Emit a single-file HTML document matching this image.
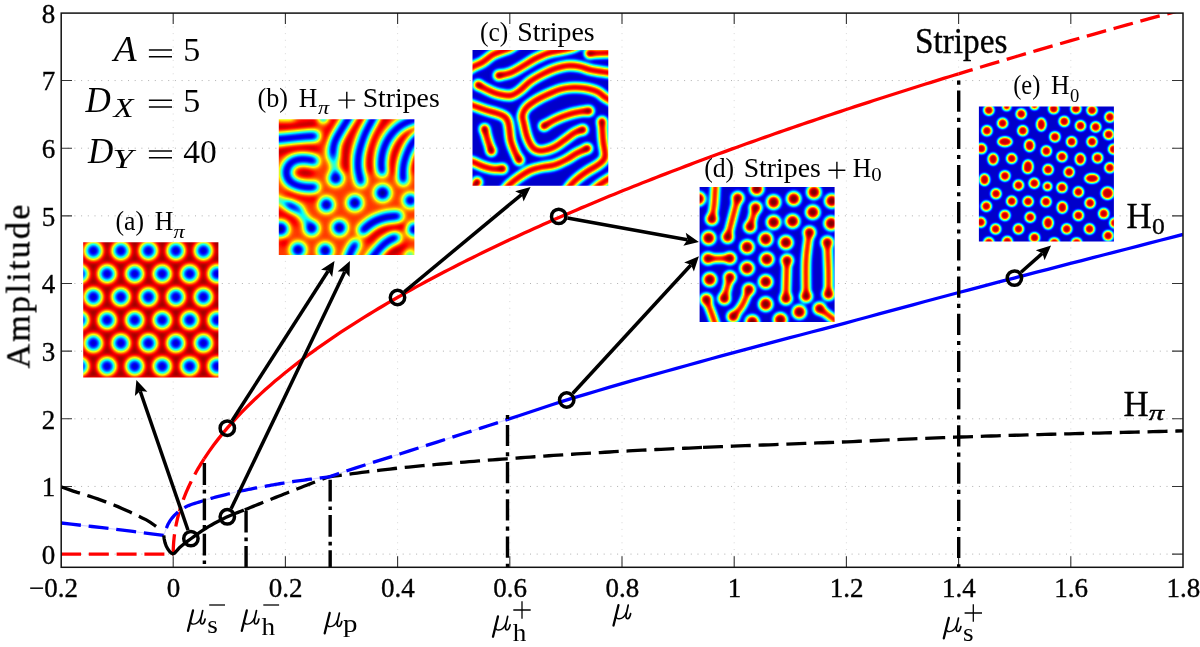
<!DOCTYPE html>
<html><head><meta charset="utf-8"><title>Bifurcation diagram</title>
<style>
html,body{margin:0;padding:0;background:#fff;}
body{width:1200px;height:647px;overflow:hidden;font-family:"Liberation Serif",serif;}
svg{display:block;}
svg text{font-family:"Liberation Serif",serif;fill:#000;stroke:#000;stroke-width:.35px;}
svg text.cm{stroke:none;}
</style></head><body>
<svg width="1200" height="647" viewBox="0 0 1200 647">
<rect width="1200" height="647" fill="#fff"/>
<path d="M173.2 13 V567.3 M285.4 13 V567.3 M397.6 13 V567.3 M509.8 13 V567.3 M622 13 V567.3 M734.2 13 V567.3 M846.4 13 V567.3 M958.6 13 V567.3 M1070.8 13 V567.3" fill="none" stroke="#808080" stroke-width="1" stroke-dasharray="1 5.7" opacity="0.3"/>
<path d="M61 554.1 H1183 M61 486.45 H1183 M61 418.8 H1183 M61 351.15 H1183 M61 283.5 H1183 M61 215.85 H1183 M61 148.2 H1183 M61 80.55 H1183" fill="none" stroke="#707070" stroke-width="1" stroke-dasharray="1 5.7" opacity="0.55"/>
<path d="M173.2 13 v11 M173.2 567.3 v-11 M285.4 13 v11 M285.4 567.3 v-11 M397.6 13 v11 M397.6 567.3 v-11 M509.8 13 v11 M509.8 567.3 v-11 M622 13 v11 M622 567.3 v-11 M734.2 13 v11 M734.2 567.3 v-11 M846.4 13 v11 M846.4 567.3 v-11 M958.6 13 v11 M958.6 567.3 v-11 M1070.8 13 v11 M1070.8 567.3 v-11 M61 554.1 h11 M1183 554.1 h-11 M61 486.45 h11 M1183 486.45 h-11 M61 418.8 h11 M1183 418.8 h-11 M61 351.15 h11 M1183 351.15 h-11 M61 283.5 h11 M1183 283.5 h-11 M61 215.85 h11 M1183 215.85 h-11 M61 148.2 h11 M1183 148.2 h-11 M61 80.55 h11 M1183 80.55 h-11" fill="none" stroke="#333" stroke-width="1.1"/>
<clipPath id="axclip"><rect x="61" y="13" width="1122" height="554.3"/></clipPath>
<g clip-path="url(#axclip)">
<path d="M61 554.1 L173.2 554.1" fill="none" stroke="#ff0000" stroke-width="3.3" stroke-dasharray="20.0 7.8" stroke-dashoffset="0" />
<path d="M173.2 554.1 L173.22 551.72 L173.28 549.34 L173.37 546.96 L173.51 544.58 L173.68 542.2 L173.89 539.82 L174.14 537.44 L174.43 535.06 L174.76 532.68 L175.13 530.3 L175.53 527.92 L175.98 525.54 L176.46 523.16 L176.98 520.78 L177.54 518.4 L178.14 516.02 L178.77 513.64 L179.45 511.26 L180.16 508.88 L180.91 506.5 L181.7 504.12 L182.53 501.74 L183.4 499.36 L184.31 496.98 L185.25 494.61 L186.24 492.23 L187.26 489.85 L188.32 487.47 L189.42 485.09 L190.56 482.71 L191.73 480.33 L192.95 477.95 L194.2 475.57 L195.49 473.19 L196.82 470.81 L198.19 468.43 L199.6 466.05 L201.05 463.67 L202.53 461.29 L204.06 458.91" fill="none" stroke="#ff0000" stroke-width="3.3" stroke-dasharray="20.0 7.8" stroke-dashoffset="0" />
<path d="M204.06 458.91 L208.77 451.89 L213.49 445.33 L218.2 439.14 L222.92 433.26 L227.63 427.66 L232.35 422.3 L237.07 417.15 L241.78 412.18 L246.5 407.38 L251.21 402.74 L255.93 398.23 L260.65 393.85 L265.36 389.58 L270.08 385.43 L274.79 381.37 L279.51 377.41 L284.23 373.53 L288.94 369.73 L293.66 366.02 L298.37 362.37 L303.09 358.79 L307.8 355.28 L312.52 351.82 L317.24 348.43 L321.95 345.09 L326.67 341.8 L331.38 338.56 L336.1 335.37 L340.82 332.23 L345.53 329.13 L350.25 326.07 L354.96 323.06 L359.68 320.08 L364.4 317.14 L369.11 314.23 L373.83 311.36 L378.54 308.53 L383.26 305.72 L387.98 302.95 L392.69 300.21 L397.41 297.5 L402.12 294.81 L406.84 292.15 L411.55 289.52 L416.27 286.92 L420.99 284.34 L425.7 281.79 L430.42 279.25 L435.13 276.75 L439.85 274.26 L444.57 271.8 L449.28 269.35 L454 266.93 L458.71 264.53 L463.43 262.15 L468.15 259.79 L472.86 257.44 L477.58 255.12 L482.29 252.81 L487.01 250.52 L491.73 248.25 L496.44 245.99 L501.16 243.75 L505.87 241.53 L510.59 239.32 L515.3 237.13 L520.02 234.95 L524.74 232.79 L529.45 230.64 L534.17 228.51 L538.88 226.39 L543.6 224.28 L548.32 222.19 L553.03 220.11 L557.75 218.04 L562.46 215.99 L567.18 213.95 L571.9 211.92 L576.61 209.9 L581.33 207.89 L586.04 205.9 L590.76 203.92 L595.48 201.94 L600.19 199.98 L604.91 198.03 L609.62 196.09 L614.34 194.16 L619.05 192.25 L623.77 190.34 L628.49 188.44 L633.2 186.55 L637.92 184.67 L642.63 182.8 L647.35 180.94 L652.07 179.09 L656.78 177.25 L661.5 175.41 L666.21 173.59 L670.93 171.77 L675.65 169.97 L680.36 168.17 L685.08 166.38 L689.79 164.6 L694.51 162.82 L699.23 161.06 L703.94 159.3 L708.66 157.55 L713.37 155.81 L718.09 154.07 L722.8 152.34 L727.52 150.62 L732.24 148.91 L736.95 147.21 L741.67 145.51 L746.38 143.82 L751.1 142.13 L755.82 140.45 L760.53 138.78 L765.25 137.12 L769.96 135.46 L774.68 133.81 L779.4 132.17 L784.11 130.53 L788.83 128.9 L793.54 127.27 L798.26 125.65 L802.98 124.04 L807.69 122.43 L812.41 120.83 L817.12 119.23 L821.84 117.65 L826.55 116.06 L831.27 114.48 L835.99 112.91 L840.7 111.34 L845.42 109.78 L850.13 108.23 L854.85 106.68 L859.57 105.13 L864.28 103.59 L869 102.06 L873.71 100.53 L878.43 99 L883.15 97.49 L887.86 95.97 L892.58 94.46 L897.29 92.96 L902.01 91.46 L906.73 89.96 L911.44 88.47 L916.16 86.99 L920.87 85.51 L925.59 84.03 L930.3 82.56 L935.02 81.1 L939.74 79.64 L944.45 78.18 L949.17 76.73 L953.88 75.28 L958.6 73.83" fill="none" stroke="#ff0000" stroke-width="3.3" />
<path d="M958.6 73.83 L969.82 70.41 L981.04 67.02 L992.26 63.65 L1003.48 60.3 L1014.7 56.98 L1025.92 53.67 L1037.14 50.39 L1048.36 47.13 L1059.58 43.89 L1070.8 40.67 L1082.02 37.47 L1093.24 34.29 L1104.46 31.13 L1115.68 27.99 L1126.9 24.87 L1138.12 21.77 L1149.34 18.68 L1160.56 15.61 L1171.78 12.56 L1183 9.53" fill="none" stroke="#ff0000" stroke-width="3.3" stroke-dasharray="20.0 7.8" stroke-dashoffset="5.33" />
<path d="M61 522.98 L71.28 524.16 L81.56 525.33 L91.83 526.5 L102.11 527.69 L112.39 528.91 L122.67 530.16 L132.94 531.45 L143.22 532.75 L153.5 534.06 L163.78 535.36 L165.84 529.54 L167.91 524.45 L169.98 520.85 L172.04 518.07 L174.11 515.68 L176.18 513.61 L178.25 511.82 L180.31 510.26 L182.38 508.87 L184.45 507.63 L186.52 506.54 L188.58 505.6 L190.65 504.78 L192.72 504.05 L194.78 503.37 L196.85 502.74 L198.92 502.11 L200.99 501.47 L203.05 500.79 L205.12 500.14 L207.19 499.51 L209.26 498.9 L211.32 498.31 L213.39 497.74 L215.46 497.18 L217.52 496.63 L219.59 496.1 L221.66 495.57 L223.73 495.05 L225.79 494.53 L227.86 494.02 L229.93 493.52 L232 493.03 L234.06 492.55 L236.13 492.08 L238.2 491.62 L240.26 491.17 L242.33 490.73 L244.4 490.29 L246.47 489.86 L248.53 489.44 L250.6 489.02 L252.67 488.61 L254.74 488.21 L256.8 487.81 L258.87 487.41 L260.94 487.02 L263 486.64 L265.07 486.26 L267.14 485.89 L269.21 485.52 L271.27 485.15 L273.34 484.79 L275.41 484.44 L277.48 484.09 L279.54 483.75 L281.61 483.41 L283.68 483.07 L285.75 482.74 L287.81 482.42 L289.88 482.1 L291.95 481.79 L294.01 481.49 L296.08 481.19 L298.15 480.89 L300.22 480.6 L302.28 480.31 L304.35 480.03 L306.42 479.75 L308.49 479.48 L310.55 479.2 L312.62 478.93 L314.69 478.66 L316.75 478.39 L318.82 478.12 L320.89 477.85 L322.96 477.59 L325.02 477.32 L327.09 477.05 L329.16 476.78 L338.08 473.69 L347 470.71 L355.92 467.82 L364.84 464.98 L373.76 462.18 L382.68 459.39 L391.6 456.57 L400.52 453.72 L409.44 450.86 L418.36 448.01 L427.28 445.16 L436.2 442.32 L445.12 439.48 L454.04 436.64 L462.96 433.8 L471.88 430.95 L480.8 428.1 L489.72 425.24 L498.64 422.36 L507.56 419.48" fill="none" stroke="#d4d4ff" stroke-width="1.1"/>
<path d="M61 486.72 L65.06 488.18 L69.13 489.64 L73.19 491.07 L77.25 492.41 L81.31 493.61 L85.38 494.83 L89.44 496.16 L93.5 497.53 L97.56 498.93 L101.63 500.37 L105.69 501.84 L109.75 503.36 L113.81 504.94 L117.88 506.62 L121.94 508.39 L126 510.22 L130.06 512.11 L134.13 514.03 L138.19 515.97 L142.25 517.9 L146.31 519.89 L150.38 522.37 L154.44 525.25 L158.5 528.19" fill="none" stroke="#000" stroke-width="3.3" stroke-dasharray="20.0 7.8" stroke-dashoffset="0" />
<path d="M244.73 509.79 L247.54 508.66 L250.36 507.53 L253.17 506.4 L255.98 505.27 L258.8 504.14 L261.61 503.01 L264.43 501.88 L267.24 500.75 L270.06 499.63 L272.87 498.5 L275.69 497.38 L278.5 496.27 L281.31 495.16 L284.13 494.05 L286.94 492.95 L289.76 491.84 L292.57 490.73 L295.39 489.62 L298.2 488.52 L301.01 487.41 L303.83 486.3 L306.64 485.2 L309.46 484.11 L312.27 483.03 L315.09 481.95 L317.9 480.89 L320.71 479.84 L323.53 478.8 L326.34 477.78 L329.16 476.78 L333.83 476.16 L338.5 475.54 L343.18 474.92 L347.85 474.3 L352.52 473.68 L357.2 473.06 L361.87 472.46 L366.54 471.85 L371.22 471.26 L375.89 470.68 L380.56 470.11 L385.24 469.56 L389.91 469.03 L394.58 468.51 L399.25 468.01 L403.93 467.53 L408.6 467.05 L413.27 466.59 L417.95 466.13 L422.62 465.69 L427.29 465.25 L431.97 464.83 L436.64 464.41 L441.31 464 L445.99 463.59 L450.66 463.19 L455.33 462.8 L460.01 462.42 L464.68 462.04 L469.35 461.66 L474.03 461.29 L478.7 460.92 L483.37 460.56 L488.04 460.2 L492.72 459.84 L497.39 459.48 L502.06 459.13 L506.74 458.78 L511.41 458.42 L516.08 458.08 L520.76 457.73 L525.43 457.4 L530.1 457.06 L534.78 456.73 L539.45 456.41 L544.12 456.09 L548.8 455.77 L553.47 455.46 L558.14 455.15 L562.81 454.85 L567.49 454.54 L572.16 454.25 L576.83 453.95 L581.51 453.66 L586.18 453.37 L590.85 453.09 L595.53 452.81 L600.2 452.53 L604.87 452.26 L609.55 451.98 L614.22 451.71 L618.89 451.45 L623.57 451.18 L628.24 450.93 L632.91 450.68 L637.58 450.43 L642.26 450.19 L646.93 449.96 L651.6 449.73 L656.28 449.51 L660.95 449.29 L665.62 449.07 L670.3 448.86 L674.97 448.65 L679.64 448.44 L684.32 448.23 L688.99 448.03 L693.66 447.83 L698.34 447.62 L703.01 447.42" fill="none" stroke="#000" stroke-width="3.3" stroke-dasharray="20.0 7.8" stroke-dashoffset="0" />
<path d="M703.01 447.42 L709.01 447.16 L715.01 446.91 L721.01 446.66 L727.01 446.42 L733.01 446.18 L739.01 445.94 L745.01 445.71 L751.01 445.47 L757.01 445.24 L763.01 445.01 L769.01 444.78 L775.01 444.56 L781.01 444.33 L787.01 444.1 L793.01 443.88 L799.01 443.65 L805.01 443.42 L811.01 443.19 L817.01 442.96 L823.01 442.73 L829.01 442.5 L835.01 442.26 L841.01 442.02 L847.01 441.78 L853.01 441.53 L859.01 441.27 L865.01 441.02 L871.01 440.75 L877.01 440.49 L883.01 440.22 L889.01 439.95 L895.01 439.69 L901 439.42 L907 439.15 L913 438.89 L919 438.63 L925 438.37 L931 438.12 L937 437.88 L943 437.64 L949 437.41 L955 437.19 L961 436.98 L967 436.78 L973 436.57 L979 436.38 L985 436.18 L991 436 L997 435.81 L1003 435.63 L1009 435.45 L1015 435.27 L1021 435.1 L1027 434.93 L1033 434.76 L1039 434.6 L1045 434.43 L1051 434.27 L1057 434.11 L1063 433.95 L1069 433.8 L1075 433.64 L1081 433.49 L1087 433.33 L1093 433.18 L1099 433.03 L1105 432.88 L1111 432.73 L1117 432.57 L1123 432.42 L1129 432.27 L1135 432.11 L1141 431.96 L1147 431.81 L1153 431.65 L1159 431.49 L1165 431.33 L1171 431.17 L1177 431.01 L1183 430.84" fill="none" stroke="#000" stroke-width="3.3" stroke-dasharray="20.0 7.8" stroke-dashoffset="0" />
<path d="M61 522.98 L71.28 524.16 L81.56 525.33 L91.83 526.5 L102.11 527.69 L112.39 528.91 L122.67 530.16 L132.94 531.45 L143.22 532.75 L153.5 534.06 L163.78 535.36 L165.84 529.54 L167.91 524.45 L169.98 520.85 L172.04 518.07 L174.11 515.68 L176.18 513.61 L178.25 511.82 L180.31 510.26 L182.38 508.87 L184.45 507.63 L186.52 506.54 L188.58 505.6 L190.65 504.78 L192.72 504.05 L194.78 503.37 L196.85 502.74 L198.92 502.11 L200.99 501.47 L203.05 500.79 L205.12 500.14 L207.19 499.51 L209.26 498.9 L211.32 498.31 L213.39 497.74 L215.46 497.18 L217.52 496.63 L219.59 496.1 L221.66 495.57 L223.73 495.05 L225.79 494.53 L227.86 494.02 L229.93 493.52 L232 493.03 L234.06 492.55 L236.13 492.08 L238.2 491.62 L240.26 491.17 L242.33 490.73 L244.4 490.29 L246.47 489.86 L248.53 489.44 L250.6 489.02 L252.67 488.61 L254.74 488.21 L256.8 487.81 L258.87 487.41 L260.94 487.02 L263 486.64 L265.07 486.26 L267.14 485.89 L269.21 485.52 L271.27 485.15 L273.34 484.79 L275.41 484.44 L277.48 484.09 L279.54 483.75 L281.61 483.41 L283.68 483.07 L285.75 482.74 L287.81 482.42 L289.88 482.1 L291.95 481.79 L294.01 481.49 L296.08 481.19 L298.15 480.89 L300.22 480.6 L302.28 480.31 L304.35 480.03 L306.42 479.75 L308.49 479.48 L310.55 479.2 L312.62 478.93 L314.69 478.66 L316.75 478.39 L318.82 478.12 L320.89 477.85 L322.96 477.59 L325.02 477.32 L327.09 477.05 L329.16 476.78 L338.08 473.69 L347 470.71 L355.92 467.82 L364.84 464.98 L373.76 462.18 L382.68 459.39 L391.6 456.57 L400.52 453.72 L409.44 450.86 L418.36 448.01 L427.28 445.16 L436.2 442.32 L445.12 439.48 L454.04 436.64 L462.96 433.8 L471.88 430.95 L480.8 428.1 L489.72 425.24 L498.64 422.36 L507.56 419.48" fill="none" stroke="#0000ff" stroke-width="3.3" stroke-dasharray="20.0 7.8" stroke-dashoffset="0" />
<path d="M507.56 419.48 L518.81 415.77 L530.07 411.99 L541.33 408.21 L552.59 404.49 L563.84 400.89 L575.1 397.44 L586.36 394.05 L597.62 390.71 L608.87 387.42 L620.13 384.17 L631.39 380.96 L642.64 377.78 L653.9 374.62 L665.16 371.48 L676.42 368.36 L687.67 365.24 L698.93 362.13 L710.19 359.03 L721.45 355.96 L732.7 352.91 L743.96 349.89 L755.22 346.89 L766.48 343.9 L777.73 340.93 L788.99 337.96 L800.25 334.99 L811.51 332.01 L822.76 329.03 L834.02 326.04 L845.28 323.04 L856.54 320.02 L867.79 316.98 L879.05 313.94 L890.31 310.89 L901.56 307.85 L912.82 304.81 L924.08 301.77 L935.34 298.75 L946.59 295.75 L957.85 292.76 L969.11 289.8 L980.37 286.84 L991.62 283.89 L1002.88 280.96 L1014.14 278.03 L1025.4 275.1 L1036.65 272.19 L1047.91 269.28 L1059.17 266.37 L1070.43 263.47 L1081.68 260.57 L1092.94 257.67 L1104.2 254.77 L1115.46 251.87 L1126.71 248.98 L1137.97 246.08 L1149.23 243.18 L1160.49 240.27 L1171.74 237.37 L1183 234.45" fill="none" stroke="#0000ff" stroke-width="3.3" />
<path d="M163.78 535.36 L164.11 538.54 L165.01 542.6 L166.19 545.98 L167.81 549.03 L169.83 551.73 L171.52 553.29 L173.2 553.9 L174.88 552.88 L179.09 548.11 L182.04 545.52 L184.98 543.15 L187.93 540.92 L190.87 538.75 L193.82 536.59 L196.76 534.47 L199.71 532.4 L202.65 530.4 L205.6 528.5 L208.54 526.7 L211.49 524.97 L214.43 523.31 L217.38 521.72 L220.32 520.19 L223.27 518.71 L226.21 517.29 L229.16 515.94 L232.1 514.7 L235.05 513.53 L238 512.4 L240.94 511.28 L243.89 510.13" fill="none" stroke="#000" stroke-width="3.3" stroke-linejoin="round"/>
</g>
<path d="M204.39 463.11 V567.3" fill="none" stroke="#000" stroke-width="3.4" stroke-dasharray="21.8 4.9 3.7 4.9"/>
<path d="M246.07 510.8 V567.3" fill="none" stroke="#000" stroke-width="3.4" stroke-dasharray="21.8 4.9 3.7 4.9"/>
<path d="M330.17 479.69 V567.3" fill="none" stroke="#000" stroke-width="3.4" stroke-dasharray="21.8 4.9 3.7 4.9"/>
<path d="M507.5 415 V567.3" fill="none" stroke="#000" stroke-width="3.4" stroke-dasharray="21.2 6.1 4.1 5.8" stroke-dashoffset="27.3"/>
<path d="M958.7 80.6 V567.3" fill="none" stroke="#000" stroke-width="3.4" stroke-dasharray="21.2 6.1 4.1 5.8" stroke-dashoffset="27.3"/>
<rect x="61.2" y="13.1" width="1121.8" height="554.2" fill="none" stroke="#111" stroke-width="1.5"/>
<defs><filter id="jeta" color-interpolation-filters="sRGB" filterUnits="userSpaceOnUse" x="-24" y="-24" width="183.2" height="183.2"><feGaussianBlur stdDeviation="3.0"/><feComponentTransfer><feFuncR type="table" tableValues="0 0 0 0 0.5 1 1 1 0.5"/><feFuncG type="table" tableValues="0 0 0.5 1 1 1 0.5 0 0"/><feFuncB type="table" tableValues="0.5 1 1 1 0.5 0 0 0 0"/><feFuncA type="linear" slope="0" intercept="1"/></feComponentTransfer></filter><filter id="jetb" color-interpolation-filters="sRGB" filterUnits="userSpaceOnUse" x="-24" y="-24" width="183.6" height="183.6"><feGaussianBlur stdDeviation="3.0"/><feComponentTransfer><feFuncR type="table" tableValues="0 0 0 0 0.5 1 1 1 0.5"/><feFuncG type="table" tableValues="0 0 0.5 1 1 1 0.5 0 0"/><feFuncB type="table" tableValues="0.5 1 1 1 0.5 0 0 0 0"/><feFuncA type="linear" slope="0" intercept="1"/></feComponentTransfer></filter><filter id="jetc" color-interpolation-filters="sRGB" filterUnits="userSpaceOnUse" x="-24" y="-24" width="183.8" height="183.8"><feGaussianBlur stdDeviation="2.3"/><feComponentTransfer><feFuncR type="table" tableValues="0 0 0 0 0.5 1 1 1 0.5"/><feFuncG type="table" tableValues="0 0 0.5 1 1 1 0.5 0 0"/><feFuncB type="table" tableValues="0.5 1 1 1 0.5 0 0 0 0"/><feFuncA type="linear" slope="0" intercept="1"/></feComponentTransfer></filter><filter id="jetd" color-interpolation-filters="sRGB" filterUnits="userSpaceOnUse" x="-24" y="-24" width="183" height="183"><feGaussianBlur stdDeviation="2.2"/><feComponentTransfer><feFuncR type="table" tableValues="0 0 0 0 0.5 1 1 1 0.5"/><feFuncG type="table" tableValues="0 0 0.5 1 1 1 0.5 0 0"/><feFuncB type="table" tableValues="0.5 1 1 1 0.5 0 0 0 0"/><feFuncA type="linear" slope="0" intercept="1"/></feComponentTransfer></filter><filter id="jete" color-interpolation-filters="sRGB" filterUnits="userSpaceOnUse" x="-24" y="-24" width="183" height="183"><feGaussianBlur stdDeviation="1.6"/><feComponentTransfer><feFuncR type="table" tableValues="0 0 0 0 0.5 1 1 1 0.5"/><feFuncG type="table" tableValues="0 0 0.5 1 1 1 0.5 0 0"/><feFuncB type="table" tableValues="0.5 1 1 1 0.5 0 0 0 0"/><feFuncA type="linear" slope="0" intercept="1"/></feComponentTransfer></filter></defs><clipPath id="cpa"><rect x="83.2" y="242.3" width="135.2" height="135.2"/></clipPath><g clip-path="url(#cpa)"><g transform="translate(83.2 242.3)" filter="url(#jeta)" fill="none" stroke-linecap="round" stroke-linejoin="round"><rect x="-24" y="-24" width="183.2" height="183.2" fill="#f9f9f9"/><circle cx="-31.1" cy="-14.6" r="8.4" fill="#0f0f0f"/><circle cx="-3.6" cy="-14.6" r="8.4" fill="#0f0f0f"/><circle cx="23.9" cy="-14.6" r="8.4" fill="#0f0f0f"/><circle cx="51.5" cy="-14.6" r="8.4" fill="#0f0f0f"/><circle cx="79" cy="-14.6" r="8.4" fill="#0f0f0f"/><circle cx="106.5" cy="-14.6" r="8.4" fill="#0f0f0f"/><circle cx="133.9" cy="-14.6" r="8.4" fill="#0f0f0f"/><circle cx="161.4" cy="-14.6" r="8.4" fill="#0f0f0f"/><circle cx="188.9" cy="-14.6" r="8.4" fill="#0f0f0f"/><circle cx="-17.3" cy="8.5" r="8.4" fill="#0f0f0f"/><circle cx="10.2" cy="8.5" r="8.4" fill="#0f0f0f"/><circle cx="37.7" cy="8.5" r="8.4" fill="#0f0f0f"/><circle cx="65.2" cy="8.5" r="8.4" fill="#0f0f0f"/><circle cx="92.7" cy="8.5" r="8.4" fill="#0f0f0f"/><circle cx="120.2" cy="8.5" r="8.4" fill="#0f0f0f"/><circle cx="147.7" cy="8.5" r="8.4" fill="#0f0f0f"/><circle cx="175.2" cy="8.5" r="8.4" fill="#0f0f0f"/><circle cx="202.7" cy="8.5" r="8.4" fill="#0f0f0f"/><circle cx="-31.1" cy="31.6" r="8.4" fill="#0f0f0f"/><circle cx="-3.6" cy="31.6" r="8.4" fill="#0f0f0f"/><circle cx="23.9" cy="31.6" r="8.4" fill="#0f0f0f"/><circle cx="51.5" cy="31.6" r="8.4" fill="#0f0f0f"/><circle cx="79" cy="31.6" r="8.4" fill="#0f0f0f"/><circle cx="106.5" cy="31.6" r="8.4" fill="#0f0f0f"/><circle cx="133.9" cy="31.6" r="8.4" fill="#0f0f0f"/><circle cx="161.4" cy="31.6" r="8.4" fill="#0f0f0f"/><circle cx="188.9" cy="31.6" r="8.4" fill="#0f0f0f"/><circle cx="-17.3" cy="54.7" r="8.4" fill="#0f0f0f"/><circle cx="10.2" cy="54.7" r="8.4" fill="#0f0f0f"/><circle cx="37.7" cy="54.7" r="8.4" fill="#0f0f0f"/><circle cx="65.2" cy="54.7" r="8.4" fill="#0f0f0f"/><circle cx="92.7" cy="54.7" r="8.4" fill="#0f0f0f"/><circle cx="120.2" cy="54.7" r="8.4" fill="#0f0f0f"/><circle cx="147.7" cy="54.7" r="8.4" fill="#0f0f0f"/><circle cx="175.2" cy="54.7" r="8.4" fill="#0f0f0f"/><circle cx="202.7" cy="54.7" r="8.4" fill="#0f0f0f"/><circle cx="-31.1" cy="77.8" r="8.4" fill="#0f0f0f"/><circle cx="-3.6" cy="77.8" r="8.4" fill="#0f0f0f"/><circle cx="23.9" cy="77.8" r="8.4" fill="#0f0f0f"/><circle cx="51.5" cy="77.8" r="8.4" fill="#0f0f0f"/><circle cx="79" cy="77.8" r="8.4" fill="#0f0f0f"/><circle cx="106.5" cy="77.8" r="8.4" fill="#0f0f0f"/><circle cx="133.9" cy="77.8" r="8.4" fill="#0f0f0f"/><circle cx="161.4" cy="77.8" r="8.4" fill="#0f0f0f"/><circle cx="188.9" cy="77.8" r="8.4" fill="#0f0f0f"/><circle cx="-17.3" cy="100.9" r="8.4" fill="#0f0f0f"/><circle cx="10.2" cy="100.9" r="8.4" fill="#0f0f0f"/><circle cx="37.7" cy="100.9" r="8.4" fill="#0f0f0f"/><circle cx="65.2" cy="100.9" r="8.4" fill="#0f0f0f"/><circle cx="92.7" cy="100.9" r="8.4" fill="#0f0f0f"/><circle cx="120.2" cy="100.9" r="8.4" fill="#0f0f0f"/><circle cx="147.7" cy="100.9" r="8.4" fill="#0f0f0f"/><circle cx="175.2" cy="100.9" r="8.4" fill="#0f0f0f"/><circle cx="202.7" cy="100.9" r="8.4" fill="#0f0f0f"/><circle cx="-31.1" cy="124" r="8.4" fill="#0f0f0f"/><circle cx="-3.6" cy="124" r="8.4" fill="#0f0f0f"/><circle cx="23.9" cy="124" r="8.4" fill="#0f0f0f"/><circle cx="51.5" cy="124" r="8.4" fill="#0f0f0f"/><circle cx="79" cy="124" r="8.4" fill="#0f0f0f"/><circle cx="106.5" cy="124" r="8.4" fill="#0f0f0f"/><circle cx="133.9" cy="124" r="8.4" fill="#0f0f0f"/><circle cx="161.4" cy="124" r="8.4" fill="#0f0f0f"/><circle cx="188.9" cy="124" r="8.4" fill="#0f0f0f"/><circle cx="-17.3" cy="147.1" r="8.4" fill="#0f0f0f"/><circle cx="10.2" cy="147.1" r="8.4" fill="#0f0f0f"/><circle cx="37.7" cy="147.1" r="8.4" fill="#0f0f0f"/><circle cx="65.2" cy="147.1" r="8.4" fill="#0f0f0f"/><circle cx="92.7" cy="147.1" r="8.4" fill="#0f0f0f"/><circle cx="120.2" cy="147.1" r="8.4" fill="#0f0f0f"/><circle cx="147.7" cy="147.1" r="8.4" fill="#0f0f0f"/><circle cx="175.2" cy="147.1" r="8.4" fill="#0f0f0f"/><circle cx="202.7" cy="147.1" r="8.4" fill="#0f0f0f"/><circle cx="-31.1" cy="170.2" r="8.4" fill="#0f0f0f"/><circle cx="-3.6" cy="170.2" r="8.4" fill="#0f0f0f"/><circle cx="23.9" cy="170.2" r="8.4" fill="#0f0f0f"/><circle cx="51.5" cy="170.2" r="8.4" fill="#0f0f0f"/><circle cx="79" cy="170.2" r="8.4" fill="#0f0f0f"/><circle cx="106.5" cy="170.2" r="8.4" fill="#0f0f0f"/><circle cx="133.9" cy="170.2" r="8.4" fill="#0f0f0f"/><circle cx="161.4" cy="170.2" r="8.4" fill="#0f0f0f"/><circle cx="188.9" cy="170.2" r="8.4" fill="#0f0f0f"/></g></g><clipPath id="cpb"><rect x="278.8" y="119.3" width="135.6" height="135.6"/></clipPath><g clip-path="url(#cpb)"><g transform="translate(278.8 119.3)" filter="url(#jetb)" fill="none" stroke-linecap="round" stroke-linejoin="round"><rect x="-24" y="-24" width="183.6" height="183.6" fill="#d1d1d1"/><path d="M-9.9 8.7 C-8.2 8.5 -4.9 8.3 0 8 C4.9 7.7 13.8 7.4 19.8 6.8 C25.8 6.2 33.2 4.7 35.8 4.3" stroke="#ffffff" stroke-width="5.8"/><path d="M-9.9 34 C-8.2 33.8 -3.5 33.6 0 32.8 C3.5 31.9 6.8 29.8 11.1 29 C15.5 28.3 21.5 28 26 28.1 C30.4 28.2 35.7 29.4 37.7 29.7" stroke="#ffffff" stroke-width="5.8"/><path d="M21.6 53.2 L32.1 53.8" stroke="#ffffff" stroke-width="5.8"/><path d="M84.1 -6.8 C83.6 -5.7 83.6 -3.5 81.6 0 C79.5 3.5 74 9.8 71.7 14.2 C69.4 18.6 68.8 22.5 68 26.6 C67.2 30.7 66.6 35 66.7 38.9 C66.9 42.9 68.3 48.2 68.6 50.1" stroke="#ffffff" stroke-width="5.8"/><path d="M108.8 -6.8 C108.4 -5.7 108.2 -2.9 106.3 0 C104.4 2.9 100.1 6.1 97.7 10.5 C95.2 14.9 92.7 21.2 91.5 26.6 C90.2 31.9 90.2 38.5 90.2 42.6 C90.2 46.8 91.3 49.9 91.5 51.3" stroke="#ffffff" stroke-width="5.8"/><path d="M140.9 8 C140 8.4 138 8.9 135.4 10.5 C132.7 12.2 128 14.2 124.8 17.9 C121.7 21.6 118 28.2 116.2 32.8 C114.3 37.3 114.1 41.6 113.7 45.1 C113.3 48.6 113.7 52.3 113.7 53.8" stroke="#ffffff" stroke-width="5.8"/><path d="M137.2 36.5 L134.1 51.3" stroke="#ffffff" stroke-width="5.8"/><path d="M56.9 -1.9 C55.6 0.4 51.2 7.6 49.4 11.7 C47.7 15.9 46.9 21 46.4 22.9" stroke="#f2f2f2" stroke-width="5.8"/><path d="M90.2 120.7 C91.5 119.4 95.4 115 97.7 113.2 C99.9 111.5 101.2 111 103.8 110.1 C106.5 109.3 110.2 108.9 113.7 108.3 C117.2 107.7 123 107 124.8 106.7" stroke="#ffffff" stroke-width="5.8"/><path d="M106.3 135.5 C107.7 134.8 111.7 132.7 115 131.4 C118.3 130.1 124.2 128.1 126.1 127.4" stroke="#ffffff" stroke-width="5.8"/><path d="M-7.4 93.5 C-6.2 93.6 -2.9 93.6 0 94.3 C2.9 95 7.2 96.2 9.9 97.8 C12.6 99.4 15 102.9 16.1 104" stroke="#f2f2f2" stroke-width="5.8"/><path d="M8.7 74.9 C11.5 75.4 21.2 77.3 26 78 C30.7 78.7 35.2 79 37.1 79.2" stroke="#f2f2f2" stroke-width="5.8"/><circle cx="44.5" cy="-1.2" r="4" fill="#000000"/><path d="M-1.2 -2.1 L13.6 -1.6" stroke="#595959" stroke-width="5"/><path d="M-9.9 20.4 C-8.2 20.3 -3.9 20.1 0 19.8 C3.9 19.5 9.3 19 13.6 18.5 C17.9 18.1 22.2 17.6 26 17.3 C29.7 17 34.2 16.8 35.8 16.7" stroke="#000000" stroke-width="10"/><path d="M35.2 41.7 C33.7 41.3 29.4 39.6 26 39.6 C22.6 39.5 17.7 40.1 14.8 41.4 C11.9 42.7 9.9 45.3 8.7 47.6 C7.4 49.9 7 52.5 7.4 55 C7.8 57.5 9.1 60.5 11.1 62.4 C13.2 64.4 16.7 65.8 19.8 66.7 C22.9 67.7 27 68.1 29.7 68.2 C32.3 68.4 34.6 67.7 35.6 67.6" stroke="#000000" stroke-width="10"/><circle cx="21.6" cy="53.2" r="3" fill="#ffffff"/><path d="M74.2 -9.3 C73.3 -7.7 71.3 -3.5 69.2 0 C67.2 3.5 64.1 7.9 61.8 11.7 C59.5 15.6 56.9 19.4 55.6 22.9 C54.3 26.4 54.3 30.3 54.1 32.8 C53.9 35.2 54.3 36.9 54.4 37.7" stroke="#000000" stroke-width="10"/><path d="M54.4 37.7 C54.6 39.3 55.2 44.2 55.6 47.6 C56 51 56.7 56.3 56.9 58.1" stroke="#333333" stroke-width="5.6"/><circle cx="56.9" cy="59" r="7.3" fill="#000000"/><path d="M97.7 -9.3 C97 -7.7 95.8 -3.9 93.9 0 C92.1 3.9 88.8 8.8 86.5 14.2 C84.3 19.7 81.6 27.2 80.3 32.8 C79.1 38.3 78.9 43.1 79.1 47.6 C79.3 52.1 81.1 57.5 81.6 60 C82.1 62.4 81.9 62 82 62.4" stroke="#000000" stroke-width="10"/><path d="M143.4 -1.9 C141.3 -1.2 135.1 0.1 131 1.9 C126.9 3.6 122.4 5.6 118.7 8.7 C115 11.7 111.2 16.4 108.8 20.4 C106.3 24.4 104.9 28.6 103.8 32.8 C102.8 36.9 102.4 41.9 102.3 45.1 C102.3 48.3 103.2 50.8 103.3 51.9" stroke="#000000" stroke-width="10"/><path d="M143.4 14.2 C142 15.3 137.6 18.3 135.4 21 C133.1 23.7 131.5 26.3 129.8 30.3 C128 34.3 125.8 40.6 124.8 45.1 C123.9 49.6 124 54.9 124 57.5 C123.9 60.1 124.4 60.1 124.5 60.6" stroke="#000000" stroke-width="10"/><circle cx="103.8" cy="73.7" r="8" fill="#000000"/><circle cx="131.6" cy="81.1" r="7" fill="#000000"/><circle cx="47.6" cy="85.4" r="7.4" fill="#000000"/><circle cx="76" cy="83.6" r="7.6" fill="#000000"/><path d="M-8.7 78 C-6.8 78.7 -0.6 80.7 2.5 82 C5.6 83.2 8.7 84.8 9.9 85.4" stroke="#404040" stroke-width="6"/><path d="M9.9 85.4 L19.8 90.4" stroke="#000000" stroke-width="9"/><path d="M19.2 90.1 C20.4 91.7 24.3 96.5 26.6 99.6 C28.8 102.8 31.7 107.4 32.8 108.9" stroke="#262626" stroke-width="6"/><circle cx="32.8" cy="108.9" r="7.1" fill="#000000"/><circle cx="1.9" cy="109.5" r="7.9" fill="#000000"/><circle cx="60.6" cy="108.3" r="7.6" fill="#000000"/><path d="M84.3 110.8 C85.9 109.5 90.3 105.1 93.9 103 C97.6 100.9 102.2 99.1 106.3 98 C110.4 97 116.6 97 118.7 96.8" stroke="#000000" stroke-width="10.6"/><circle cx="135.4" cy="110.1" r="7" fill="#000000"/><circle cx="19.2" cy="130.5" r="7.4" fill="#000000"/><circle cx="46.4" cy="131.4" r="7.4" fill="#000000"/><path d="M69.2 139.8 C69.8 138.4 71.4 133.6 72.7 131.2 C73.9 128.7 76 126 76.6 125" stroke="#000000" stroke-width="9.6"/><path d="M91.5 141 C92.5 139.7 95.2 135.9 97.7 133 C100.1 130.2 103.6 126.3 106.3 124 C109 121.7 112 120 113.7 119 C115.5 118.1 116.3 118.4 116.8 118.3" stroke="#000000" stroke-width="10"/><circle cx="131" cy="136.1" r="5.1" fill="#4c4c4c"/><circle cx="103.8" cy="110.8" r="3.8" fill="#ffffff"/><circle cx="4.9" cy="122.5" r="3.8" fill="#ffffff"/><circle cx="115.6" cy="131.8" r="3.8" fill="#ffffff"/></g></g><clipPath id="cpc"><rect x="472.5" y="50" width="135.8" height="135.8"/></clipPath><g clip-path="url(#cpc)"><g transform="translate(472.5 50)" filter="url(#jetc)" fill="none" stroke-linecap="round" stroke-linejoin="round"><rect x="-24" y="-24" width="183.8" height="183.8" fill="#131313"/><path d="M-11.2 24 C-9.3 22.8 -3.6 19 0 17 C3.6 15.1 6.9 14.2 10.3 12.1 C13.7 10 16.9 6.6 20.2 4.7 C23.5 2.8 27 2.1 30 0.9 C33 -0.3 35.3 -0.7 38.1 -2.2 C40.9 -3.8 45.6 -7.5 47.1 -8.5" stroke="#ebebeb" stroke-width="8.9"/><path d="M26.2 25.5 C28.3 25.1 34.6 24.3 38.8 22.6 C42.9 21 47 18.1 51.1 15.7 C55.2 13.3 59.3 10.4 63.4 8.3 C67.5 6.2 71.6 4.2 75.8 2.9 C79.9 1.6 83.9 1.4 88.1 0.4 C92.3 -0.5 96.9 -1.2 100.9 -2.7 C104.8 -4.2 110.2 -7.5 112.1 -8.5" stroke="#ebebeb" stroke-width="8.9"/><circle cx="26.2" cy="25.5" r="5" fill="#ffffff"/><path d="M5.8 35 C7.2 35.7 10.5 37.7 13.9 39.2 C17.3 40.8 22.1 43.1 26.2 44.2 C30.4 45.2 35.3 46.1 38.8 45.5 C42.3 44.9 44.2 42.8 47.3 40.6 C50.4 38.3 53.5 34.5 57.1 31.8 C60.8 29.1 65.3 26.6 69.5 24.4 C73.6 22.3 77.9 20.3 82 18.8 C86.2 17.4 90.2 16.1 94.4 15.7 C98.5 15.3 102.6 15.6 106.7 16.4 C110.8 17.1 114.1 19.1 119 20.2 C123.9 21.2 131.4 22.1 135.8 22.6 C140.3 23.2 144 23.2 145.7 23.3" stroke="#ebebeb" stroke-width="8.9"/><circle cx="5.8" cy="35" r="5" fill="#ffffff"/><path d="M117.2 3.4 C119.3 3.3 125.2 3.1 130 2.9 C134.7 2.7 143.1 2.4 145.7 2.2" stroke="#ebebeb" stroke-width="8.9"/><circle cx="117.2" cy="3.4" r="5" fill="#ffffff"/><path d="M-11.2 52 C-9.3 52.6 -4.2 54 0 55.4 C4.2 56.7 9.5 58.9 13.9 60.3 C18.3 61.7 22.9 62.6 26.2 63.9 C29.5 65.1 31.9 65.8 33.6 67.7 C35.3 69.6 35.6 71.3 36.3 75.1 C37.1 78.8 37.1 85.5 38.1 90.1 C39.1 94.7 41.2 99.1 42.6 102.4 C44 105.7 45.9 108.8 46.6 110" stroke="#ebebeb" stroke-width="8.9"/><circle cx="46.6" cy="110" r="5" fill="#ffffff"/><path d="M71.5 76 C73.2 75 78.2 71.8 82 69.9 C85.8 68.1 90.2 66.3 94.4 65 C98.5 63.6 103 62.5 106.7 61.9 C110.3 61.2 114.7 61.1 116.3 61" stroke="#ebebeb" stroke-width="8.9"/><circle cx="71.5" cy="76" r="5" fill="#ffffff"/><circle cx="116.3" cy="61" r="5" fill="#ffffff"/><path d="M110.3 79.8 C109 80.2 105.5 80.8 102.9 82.3 C100.2 83.7 97.8 85.8 94.4 88.3 C90.9 90.8 86.2 94.9 82 97 C77.9 99.1 73 100.6 69.5 100.9 C66 101.1 63.4 100.7 61 98.4 C58.5 96.1 56.3 91.5 54.7 87.2 C53 82.8 51.9 76 51.1 72.4 C50.3 68.7 49.3 67.6 49.8 65.2 C50.2 62.8 51.3 60.3 53.6 57.8 C55.8 55.4 59.7 52.7 63.4 50.4 C67.1 48.1 71.6 46 75.8 44.2 C79.9 42.3 84 40.3 88.1 39.2 C92.2 38.1 96.3 37.6 100.4 37.4 C104.5 37.2 108.6 37.4 112.7 38.1 C116.9 38.8 122 40.1 125.3 41.7 C128.6 43.3 129.5 45.5 132.7 47.5 C135.9 49.5 142.6 52.7 144.6 53.8" stroke="#ebebeb" stroke-width="8.9"/><circle cx="110.3" cy="79.8" r="5" fill="#ffffff"/><path d="M114.7 98.4 C113 99.2 107.6 101.5 104.2 103.3 C100.8 105.1 98.1 107.4 94.4 109.4 C90.7 111.3 86.2 113.7 82 115 C77.9 116.2 73.6 116.1 69.5 117 C65.3 117.9 60.8 119 57.1 120.6 C53.5 122.2 50.6 124.3 47.3 126.6 C44 128.9 40.5 131.4 37.4 134.2 C34.4 137.1 30.5 142.3 29.1 143.9" stroke="#ebebeb" stroke-width="8.9"/><circle cx="114.7" cy="98.4" r="5" fill="#ffffff"/><path d="M129.5 71.7 C129.7 74.9 130.1 85.1 130.7 91 C131.2 96.9 133.4 103 132.7 106.9 C132 110.8 129.5 111.8 126.4 114.3 C123.3 116.8 117.8 119.2 114.1 121.7 C110.4 124.2 106.9 126.8 104.2 129.1 C101.5 131.4 100 132.9 97.9 135.4 C95.9 137.8 92.9 142.5 91.9 143.9" stroke="#ebebeb" stroke-width="8.9"/><circle cx="129.5" cy="71.7" r="5" fill="#ffffff"/><path d="M12.1 79.1 C12.6 80.9 14.1 86.5 15.2 90.1 C16.4 93.7 18.2 99.1 18.8 100.9" stroke="#ebebeb" stroke-width="8.9"/><circle cx="12.1" cy="79.1" r="5" fill="#ffffff"/><circle cx="18.8" cy="100.9" r="5" fill="#ffffff"/><path d="M-11.2 109.1 C-9.3 109.6 -3.6 110.6 0 111.8 C3.6 113 6.9 115.2 10.3 116.3 C13.7 117.5 16.9 118.4 20.2 118.8 C23.5 119.2 28.4 118.8 30 118.8" stroke="#ebebeb" stroke-width="8.9"/><circle cx="30" cy="118.8" r="5" fill="#ffffff"/><path d="M4.7 132.2 L-2.2 141.6" stroke="#ebebeb" stroke-width="8.9"/><circle cx="4.7" cy="132.2" r="5" fill="#ffffff"/><path d="M145.7 123.7 C144 124.6 139.2 127 135.8 129.1 C132.4 131.1 128.5 133.6 125.3 136 C122.1 138.5 118 142.6 116.5 143.9" stroke="#ebebeb" stroke-width="8.9"/></g></g><clipPath id="cpd"><rect x="699.6" y="186.9" width="135" height="135"/></clipPath><g clip-path="url(#cpd)"><g transform="translate(699.6 186.9)" filter="url(#jetd)" fill="none" stroke-linecap="round" stroke-linejoin="round"><rect x="-24" y="-24" width="183" height="183" fill="#131313"/><circle cx="57.1" cy="1.8" r="6.8" fill="#ffffff"/><circle cx="74" cy="15.2" r="6.8" fill="#ffffff"/><circle cx="94.1" cy="11.9" r="6.8" fill="#ffffff"/><circle cx="114.3" cy="5.2" r="6.8" fill="#ffffff"/><circle cx="132.2" cy="14.1" r="6.8" fill="#ffffff"/><circle cx="74" cy="35.4" r="6.8" fill="#ffffff"/><circle cx="93" cy="34.3" r="6.8" fill="#ffffff"/><circle cx="113.2" cy="25.3" r="6.8" fill="#ffffff"/><circle cx="131.6" cy="36.5" r="6.8" fill="#ffffff"/><circle cx="9" cy="51.1" r="6.8" fill="#ffffff"/><circle cx="66.1" cy="52.2" r="6.8" fill="#ffffff"/><circle cx="86.3" cy="55.6" r="6.8" fill="#ffffff"/><circle cx="47.5" cy="60.1" r="6.8" fill="#ffffff"/><circle cx="67.2" cy="72.4" r="6.8" fill="#ffffff"/><circle cx="47.5" cy="81.4" r="6.8" fill="#ffffff"/><circle cx="66.1" cy="94.8" r="6.8" fill="#ffffff"/><circle cx="10.1" cy="92.6" r="6.8" fill="#ffffff"/><circle cx="66.1" cy="117.2" r="6.8" fill="#ffffff"/><circle cx="99.7" cy="125.1" r="6.8" fill="#ffffff"/><circle cx="80.7" cy="132.9" r="6.8" fill="#ffffff"/><circle cx="52.7" cy="135.1" r="6.8" fill="#ffffff"/><circle cx="-1.1" cy="11.9" r="6.8" fill="#ffffff"/><path d="M16.1 -9.4 C16.1 -7.8 15.9 -4.5 15.7 0 C15.4 4.5 15.1 12.1 14.6 17.5 C14 22.8 12.7 29.6 12.3 32" stroke="#e6e6e6" stroke-width="7.9"/><circle cx="12.3" cy="32" r="6" fill="#ffffff"/><path d="M38.1 11.2 C37.4 14.1 35.3 22.2 33.6 28.7 C31.9 35.1 28.9 46.4 28 50" stroke="#e6e6e6" stroke-width="7.9"/><circle cx="38.1" cy="11.2" r="6" fill="#ffffff"/><circle cx="28" cy="50" r="6" fill="#ffffff"/><path d="M56 20.8 L50.4 39.9" stroke="#e6e6e6" stroke-width="7.9"/><circle cx="56" cy="20.8" r="6" fill="#ffffff"/><circle cx="50.4" cy="39.9" r="6" fill="#ffffff"/><path d="M8.3 71.7 L30.3 71.3" stroke="#e6e6e6" stroke-width="7.9"/><circle cx="8.3" cy="71.7" r="6" fill="#ffffff"/><circle cx="30.3" cy="71.3" r="6" fill="#ffffff"/><path d="M30.3 90.3 L24.7 111.6" stroke="#e6e6e6" stroke-width="7.9"/><circle cx="30.3" cy="90.3" r="6" fill="#ffffff"/><circle cx="24.7" cy="111.6" r="6" fill="#ffffff"/><path d="M49.3 102.6 C48.2 105.3 45.2 113.9 42.6 118.3 C40 122.8 35.1 127.7 33.6 129.5" stroke="#e6e6e6" stroke-width="7.9"/><circle cx="49.3" cy="102.6" r="6" fill="#ffffff"/><circle cx="33.6" cy="129.5" r="6" fill="#ffffff"/><path d="M6.7 112.7 C7.7 115.2 10.6 122.6 12.3 127.3 C14 132 16.1 138.5 16.8 140.7" stroke="#e6e6e6" stroke-width="7.9"/><circle cx="6.7" cy="112.7" r="6" fill="#ffffff"/><path d="M87.4 73.5 L86.3 111.6" stroke="#e6e6e6" stroke-width="7.9"/><circle cx="87.4" cy="73.5" r="6" fill="#ffffff"/><circle cx="86.3" cy="111.6" r="6" fill="#ffffff"/><path d="M109.8 45.5 C109.3 50.2 107 62.9 106.5 73.5 C105.9 84.2 106.5 103.4 106.5 109.4" stroke="#e6e6e6" stroke-width="7.9"/><circle cx="109.8" cy="45.5" r="6" fill="#ffffff"/><circle cx="106.5" cy="109.4" r="6" fill="#ffffff"/><path d="M127.7 55.6 C127.9 60.4 128.7 76.1 128.9 84.7 C129.1 93.3 128.9 103.4 128.9 107.1" stroke="#e6e6e6" stroke-width="7.9"/><circle cx="127.7" cy="55.6" r="6" fill="#ffffff"/><circle cx="128.9" cy="107.1" r="6" fill="#ffffff"/><path d="M119.9 121.7 L137.8 135.1" stroke="#e6e6e6" stroke-width="7.9"/><circle cx="119.9" cy="121.7" r="6" fill="#ffffff"/></g></g><clipPath id="cpe"><rect x="978.9" y="106.6" width="135" height="135"/></clipPath><g clip-path="url(#cpe)"><g transform="translate(978.9 106.6)" filter="url(#jete)" fill="none" stroke-linecap="round" stroke-linejoin="round"><rect x="-24" y="-24" width="183" height="183" fill="#131313"/><ellipse cx="9.9" cy="3.7" rx="5" ry="5" fill="#ededed"/><ellipse cx="74.8" cy="2.1" rx="5" ry="5" fill="#ededed"/><ellipse cx="97" cy="2.1" rx="5" ry="5" fill="#ededed"/><ellipse cx="113.1" cy="3.7" rx="5" ry="5" fill="#ededed"/><ellipse cx="131" cy="10.5" rx="5" ry="5" fill="#ededed"/><ellipse cx="23.7" cy="16.7" rx="5" ry="5" fill="#ededed"/><ellipse cx="42.3" cy="7.4" rx="5" ry="5" fill="#ededed"/><ellipse cx="85.3" cy="14.8" rx="5" ry="5" fill="#ededed"/><ellipse cx="101.6" cy="19.2" rx="5" ry="5" fill="#ededed"/><ellipse cx="116.8" cy="20.4" rx="5" ry="5" fill="#ededed"/><ellipse cx="129.8" cy="27.8" rx="5" ry="5" fill="#ededed"/><ellipse cx="8" cy="24.1" rx="5" ry="5" fill="#ededed"/><ellipse cx="43.9" cy="24.1" rx="5" ry="5" fill="#ededed"/><ellipse cx="76" cy="30.3" rx="5" ry="5" fill="#ededed"/><ellipse cx="92.7" cy="35.2" rx="5" ry="5" fill="#ededed"/><ellipse cx="113.1" cy="35.2" rx="5" ry="5" fill="#ededed"/><ellipse cx="67.4" cy="44.5" rx="5" ry="5" fill="#ededed"/><ellipse cx="2.5" cy="42" rx="5" ry="5" fill="#ededed"/><ellipse cx="134.7" cy="42.6" rx="5" ry="5" fill="#ededed"/><ellipse cx="32.8" cy="51.9" rx="5" ry="5" fill="#ededed"/><ellipse cx="83.1" cy="50.1" rx="5" ry="5" fill="#ededed"/><ellipse cx="118.7" cy="51.3" rx="5" ry="5" fill="#ededed"/><ellipse cx="69.2" cy="63" rx="5" ry="5" fill="#ededed"/><ellipse cx="90.2" cy="65.5" rx="5" ry="5" fill="#ededed"/><ellipse cx="131" cy="61.2" rx="5" ry="5" fill="#ededed"/><ellipse cx="27.8" cy="0" rx="4" ry="4" fill="#ededed"/><ellipse cx="55.6" cy="-1.2" rx="4" ry="4" fill="#ededed"/><ellipse cx="62.4" cy="17.9" rx="4.7" ry="6.4" fill="#ededed"/><ellipse cx="26" cy="35.2" rx="7.2" ry="4.7" fill="#ededed"/><ellipse cx="50.7" cy="38.9" rx="5" ry="5.9" fill="#ededed"/><ellipse cx="14.2" cy="52.5" rx="5" ry="5.9" fill="#ededed"/><ellipse cx="101.4" cy="52.5" rx="5" ry="5.9" fill="#ededed"/><ellipse cx="49.1" cy="59.3" rx="5" ry="5.9" fill="#ededed"/><ellipse cx="48.8" cy="61.9" rx="5" ry="5" fill="#ededed"/><ellipse cx="26" cy="69.3" rx="5" ry="5" fill="#ededed"/><ellipse cx="39.6" cy="78.6" rx="5" ry="5" fill="#ededed"/><ellipse cx="55.3" cy="76.7" rx="5" ry="5" fill="#ededed"/><ellipse cx="83.1" cy="81" rx="5" ry="5" fill="#ededed"/><ellipse cx="99.5" cy="85.4" rx="5" ry="5" fill="#ededed"/><ellipse cx="17.1" cy="87.2" rx="5" ry="5" fill="#ededed"/><ellipse cx="32.8" cy="94.6" rx="5" ry="5" fill="#ededed"/><ellipse cx="49.2" cy="94.9" rx="5" ry="5" fill="#ededed"/><ellipse cx="67.1" cy="95.2" rx="5" ry="5" fill="#ededed"/><ellipse cx="111.2" cy="96.5" rx="5" ry="5" fill="#ededed"/><ellipse cx="7.4" cy="99.6" rx="5" ry="5" fill="#ededed"/><ellipse cx="26" cy="108.8" rx="5" ry="5" fill="#ededed"/><ellipse cx="51.3" cy="110.7" rx="5" ry="5" fill="#ededed"/><ellipse cx="99.5" cy="108.8" rx="5" ry="5" fill="#ededed"/><ellipse cx="124.8" cy="107" rx="5" ry="5" fill="#ededed"/><ellipse cx="1.9" cy="115.6" rx="5" ry="5" fill="#ededed"/><ellipse cx="16.7" cy="122.4" rx="5" ry="5" fill="#ededed"/><ellipse cx="39.6" cy="122.4" rx="5" ry="5" fill="#ededed"/><ellipse cx="87.8" cy="122.4" rx="5" ry="5" fill="#ededed"/><ellipse cx="110.6" cy="122.4" rx="5" ry="5" fill="#ededed"/><ellipse cx="55.6" cy="131.1" rx="5" ry="5" fill="#ededed"/><ellipse cx="129.2" cy="129.2" rx="5" ry="5" fill="#ededed"/><ellipse cx="28.4" cy="135" rx="5" ry="5" fill="#ededed"/><ellipse cx="9.9" cy="136" rx="5" ry="5" fill="#ededed"/><ellipse cx="75.4" cy="136.3" rx="5" ry="5" fill="#ededed"/><ellipse cx="97.7" cy="136.3" rx="5" ry="5" fill="#ededed"/><ellipse cx="136" cy="116.3" rx="5" ry="5" fill="#ededed"/><ellipse cx="5.6" cy="73" rx="5" ry="5.9" fill="#ededed"/><ellipse cx="113.1" cy="71.8" rx="7.2" ry="4.7" fill="#ededed"/><ellipse cx="68.6" cy="79.8" rx="4.2" ry="4.2" fill="#ededed"/><ellipse cx="128.6" cy="86.6" rx="6.2" ry="6.2" fill="#ededed"/><ellipse cx="83.4" cy="100.8" rx="5" ry="5.9" fill="#ededed"/><ellipse cx="69.2" cy="116.3" rx="5" ry="6.2" fill="#ededed"/></g></g>
<path d="M188.04 530.28 L140.24 391.26" stroke="#000" stroke-width="3.5" fill="none"/><path d="M136.4 380.1 L147.39 391.76 L140.17 391.07 L134.91 396.05 Z" fill="#000"/>
<path d="M232.05 420.79 L328.13 271.03" stroke="#000" stroke-width="3.5" fill="none"/><path d="M334.5 261.1 L332.17 276.95 L328.24 270.86 L321.06 269.82 Z" fill="#000"/>
<path d="M231.1 508.86 L344.8 271.74" stroke="#000" stroke-width="3.5" fill="none"/><path d="M349.9 261.1 L349.54 277.12 L344.88 271.56 L337.64 271.41 Z" fill="#000"/>
<path d="M404.27 291.88 L521.52 194.54" stroke="#000" stroke-width="3.5" fill="none"/><path d="M530.6 187 L523.58 201.4 L521.67 194.41 L515.15 191.25 Z" fill="#000"/>
<path d="M567.36 217.97 L687.29 239.79" stroke="#000" stroke-width="3.5" fill="none"/><path d="M698.9 241.9 L683.35 245.78 L687.49 239.82 L685.72 232.79 Z" fill="#000"/>
<path d="M572.66 393.52 L690.91 264.98" stroke="#000" stroke-width="3.5" fill="none"/><path d="M698.9 256.3 L693.87 271.51 L691.05 264.84 L684.16 262.58 Z" fill="#000"/>
<path d="M1020.99 272.27 L1042.27 253.42" stroke="#000" stroke-width="3.5" fill="none"/><path d="M1051.1 245.6 L1044.55 260.22 L1042.42 253.29 L1035.79 250.34 Z" fill="#000"/>
<circle cx="190.9" cy="538.6" r="7.2" fill="none" stroke="#000" stroke-width="3.5"/>
<circle cx="227.3" cy="428.2" r="7.2" fill="none" stroke="#000" stroke-width="3.5"/>
<circle cx="227.3" cy="516.8" r="7.2" fill="none" stroke="#000" stroke-width="3.5"/>
<circle cx="397.5" cy="297.5" r="7.2" fill="none" stroke="#000" stroke-width="3.5"/>
<circle cx="558.7" cy="216.4" r="7.2" fill="none" stroke="#000" stroke-width="3.5"/>
<circle cx="566.7" cy="400" r="7.2" fill="none" stroke="#000" stroke-width="3.5"/>
<circle cx="1014.4" cy="278.1" r="7.2" fill="none" stroke="#000" stroke-width="3.5"/>
<g opacity="0.999">
<text x="53.6" y="597" font-size="27" text-anchor="middle">−0.2</text>
<text x="173.5" y="597" font-size="27" text-anchor="middle">0</text>
<text x="285.7" y="597" font-size="27" text-anchor="middle">0.2</text>
<text x="397.9" y="597" font-size="27" text-anchor="middle">0.4</text>
<text x="510.1" y="597" font-size="27" text-anchor="middle">0.6</text>
<text x="622.3" y="597" font-size="27" text-anchor="middle">0.8</text>
<text x="734.5" y="597" font-size="27" text-anchor="middle">1</text>
<text x="846.7" y="597" font-size="27" text-anchor="middle">1.2</text>
<text x="958.9" y="597" font-size="27" text-anchor="middle">1.4</text>
<text x="1071.1" y="597" font-size="27" text-anchor="middle">1.6</text>
<text x="1183.3" y="597" font-size="27" text-anchor="middle">1.8</text>
<text x="55.3" y="563.8" font-size="27" text-anchor="end">0</text>
<text x="55.3" y="496.15" font-size="27" text-anchor="end">1</text>
<text x="55.3" y="428.5" font-size="27" text-anchor="end">2</text>
<text x="55.3" y="360.85" font-size="27" text-anchor="end">3</text>
<text x="55.3" y="293.2" font-size="27" text-anchor="end">4</text>
<text x="55.3" y="225.55" font-size="27" text-anchor="end">5</text>
<text x="55.3" y="157.9" font-size="27" text-anchor="end">6</text>
<text x="55.3" y="90.25" font-size="27" text-anchor="end">7</text>
<text x="55.3" y="22.6" font-size="27" text-anchor="end">8</text>
<text transform="translate(29.4 368.5) rotate(-90)" font-size="34" letter-spacing="2.3">Amplitude</text>
<text x="113.8" y="61" font-size="35.5" textLength="22.8" lengthAdjust="spacingAndGlyphs" font-style="italic" class="cm">A</text>
<path d="M148.9 50 H172 M148.9 56.8 H172" stroke="#000" stroke-width="1.5" fill="none"/>
<text x="183.2" y="61.2" font-size="34"  class="cm">5</text>
<text x="85.6" y="111.6" font-size="35" font-style="italic" class="cm">D</text>
<text x="113.5" y="117" font-size="27" textLength="20" lengthAdjust="spacingAndGlyphs" font-style="italic" class="cm">X</text>
<path d="M148.9 100.2 H172 M148.9 107.1 H172" stroke="#000" stroke-width="1.5" fill="none"/>
<text x="183.2" y="112.1" font-size="34"  class="cm">5</text>
<text x="88" y="162.6" font-size="35" font-style="italic" class="cm">D</text>
<text x="112.5" y="168" font-size="27" textLength="20.5" lengthAdjust="spacingAndGlyphs" font-style="italic" class="cm">Y</text>
<path d="M148.9 150.9 H172 M148.9 157.8 H172" stroke="#000" stroke-width="1.5" fill="none"/>
<text x="183.2" y="162.9" font-size="33.5"  class="cm">40</text>
<text x="115.5" y="230" font-size="27" textLength="28.5" lengthAdjust="spacingAndGlyphs"  class="cm">(a)</text>
<text x="154.7" y="230" font-size="27" textLength="18.6" lengthAdjust="spacingAndGlyphs"  class="cm">H</text>
<text x="173.6" y="237.6" font-size="18" textLength="11.2" lengthAdjust="spacingAndGlyphs" font-style="italic" class="cm">π</text>
<text x="257.5" y="106.9" font-size="27" textLength="30.5" lengthAdjust="spacingAndGlyphs"  class="cm">(b)</text>
<text x="298.8" y="106.9" font-size="27" textLength="18.5" lengthAdjust="spacingAndGlyphs"  class="cm">H</text>
<text x="318" y="114.4" font-size="18" textLength="11.2" lengthAdjust="spacingAndGlyphs" font-style="italic" class="cm">π</text>
<path d="M338.4 100.1 h16.8 M346.8 91.7 v16.8" stroke="#000" stroke-width="1.4" fill="none"/>
<text x="362.7" y="106.9" font-size="27" textLength="77" lengthAdjust="spacingAndGlyphs"  class="cm">Stripes</text>
<text x="480" y="40.5" font-size="27" textLength="28.3" lengthAdjust="spacingAndGlyphs"  class="cm">(c)</text>
<text x="517.3" y="40.5" font-size="27" textLength="77.4" lengthAdjust="spacingAndGlyphs"  class="cm">Stripes</text>
<text x="704.2" y="176.9" font-size="27" textLength="30" lengthAdjust="spacingAndGlyphs"  class="cm">(d)</text>
<text x="743.7" y="176.9" font-size="27" textLength="77.1" lengthAdjust="spacingAndGlyphs"  class="cm">Stripes</text>
<path d="M828.45 170.3 h16.9 M836.9 161.85 v16.9" stroke="#000" stroke-width="1.4" fill="none"/>
<text x="852.7" y="176.9" font-size="27" textLength="18.5" lengthAdjust="spacingAndGlyphs"  class="cm">H</text>
<text x="871.2" y="181.4" font-size="19" textLength="10.4" lengthAdjust="spacingAndGlyphs"  class="cm">0</text>
<text x="1013.2" y="94" font-size="27" textLength="27.2" lengthAdjust="spacingAndGlyphs"  class="cm">(e)</text>
<text x="1050.9" y="94" font-size="27" textLength="18.5" lengthAdjust="spacingAndGlyphs"  class="cm">H</text>
<text x="1069.9" y="101.8" font-size="18.3" textLength="9.3" lengthAdjust="spacingAndGlyphs"  class="cm">0</text>
<text x="915" y="52.6" font-size="35" textLength="92.5" lengthAdjust="spacingAndGlyphs" >Stripes</text>
<text x="1126.4" y="228.2" font-size="35.5" textLength="25.2" lengthAdjust="spacingAndGlyphs" >H</text>
<text x="1152" y="233.5" font-size="24" textLength="12.8" lengthAdjust="spacingAndGlyphs" >0</text>
<text x="1123.4" y="415.7" font-size="35.5" textLength="25.2" lengthAdjust="spacingAndGlyphs" >H</text>
<text x="1148.8" y="420.2" font-size="20.5" textLength="15.4" lengthAdjust="spacingAndGlyphs" font-style="italic">π</text>
<g transform="translate(187.5 623.6)" fill="none" stroke="#000" stroke-linecap="round" stroke-linejoin="round"><path d="M5.5 -13.2 L2.9 -2.6 L0.5 7.2" stroke-width="2.3"/><path d="M2.9 -3 C2.6 -0.4 4.2 0.6 6.2 0.5 C9.2 0.3 11.9 -2.4 13.2 -5.6" stroke-width="1.4"/><path d="M15.2 -13.1 L13.3 -4.6 C12.6 -1.5 13 0.4 14.5 0.4 C16 0.4 17 -1.8 17.6 -4.6" stroke-width="1.7"/></g>
<text x="207.2" y="633.2" font-size="24.5" textLength="10.6" lengthAdjust="spacingAndGlyphs"  class="cm">s</text>
<path d="M209.2 605 h15.8" stroke="#000" stroke-width="1.3" fill="none"/>
<g transform="translate(241.3 623.6)" fill="none" stroke="#000" stroke-linecap="round" stroke-linejoin="round"><path d="M5.5 -13.2 L2.9 -2.6 L0.5 7.2" stroke-width="2.3"/><path d="M2.9 -3 C2.6 -0.4 4.2 0.6 6.2 0.5 C9.2 0.3 11.9 -2.4 13.2 -5.6" stroke-width="1.4"/><path d="M15.2 -13.1 L13.3 -4.6 C12.6 -1.5 13 0.4 14.5 0.4 C16 0.4 17 -1.8 17.6 -4.6" stroke-width="1.7"/></g>
<text x="261.4" y="635" font-size="24.5" textLength="13.6" lengthAdjust="spacingAndGlyphs"  class="cm">h</text>
<path d="M263.3 605 h15.8" stroke="#000" stroke-width="1.3" fill="none"/>
<g transform="translate(324.2 626.1)" fill="none" stroke="#000" stroke-linecap="round" stroke-linejoin="round"><path d="M5.5 -13.2 L2.9 -2.6 L0.5 7.2" stroke-width="2.3"/><path d="M2.9 -3 C2.6 -0.4 4.2 0.6 6.2 0.5 C9.2 0.3 11.9 -2.4 13.2 -5.6" stroke-width="1.4"/><path d="M15.2 -13.1 L13.3 -4.6 C12.6 -1.5 13 0.4 14.5 0.4 C16 0.4 17 -1.8 17.6 -4.6" stroke-width="1.7"/></g>
<text x="342.9" y="632.1" font-size="24.5" textLength="14.5" lengthAdjust="spacingAndGlyphs"  class="cm">p</text>
<g transform="translate(492.5 629.5)" fill="none" stroke="#000" stroke-linecap="round" stroke-linejoin="round"><path d="M5.5 -13.2 L2.9 -2.6 L0.5 7.2" stroke-width="2.3"/><path d="M2.9 -3 C2.6 -0.4 4.2 0.6 6.2 0.5 C9.2 0.3 11.9 -2.4 13.2 -5.6" stroke-width="1.4"/><path d="M15.2 -13.1 L13.3 -4.6 C12.6 -1.5 13 0.4 14.5 0.4 C16 0.4 17 -1.8 17.6 -4.6" stroke-width="1.7"/></g>
<text x="512.7" y="640.8" font-size="24.5" textLength="13.6" lengthAdjust="spacingAndGlyphs"  class="cm">h</text>
<path d="M513.3 610 h17.4 M522 601.3 v17.4" stroke="#000" stroke-width="1.3" fill="none"/>
<g transform="translate(613 618.3)" fill="none" stroke="#000" stroke-linecap="round" stroke-linejoin="round"><path d="M5.5 -13.2 L2.9 -2.6 L0.5 7.2" stroke-width="2.3"/><path d="M2.9 -3 C2.6 -0.4 4.2 0.6 6.2 0.5 C9.2 0.3 11.9 -2.4 13.2 -5.6" stroke-width="1.4"/><path d="M15.2 -13.1 L13.3 -4.6 C12.6 -1.5 13 0.4 14.5 0.4 C16 0.4 17 -1.8 17.6 -4.6" stroke-width="1.7"/></g>
<g transform="translate(943.3 631.1)" fill="none" stroke="#000" stroke-linecap="round" stroke-linejoin="round"><path d="M5.5 -13.2 L2.9 -2.6 L0.5 7.2" stroke-width="2.3"/><path d="M2.9 -3 C2.6 -0.4 4.2 0.6 6.2 0.5 C9.2 0.3 11.9 -2.4 13.2 -5.6" stroke-width="1.4"/><path d="M15.2 -13.1 L13.3 -4.6 C12.6 -1.5 13 0.4 14.5 0.4 C16 0.4 17 -1.8 17.6 -4.6" stroke-width="1.7"/></g>
<text x="963" y="640.8" font-size="24.5" textLength="10.6" lengthAdjust="spacingAndGlyphs"  class="cm">s</text>
<path d="M964.6 613 h17.4 M973.3 604.3 v17.4" stroke="#000" stroke-width="1.3" fill="none"/>
</g>
</svg>
</body></html>
